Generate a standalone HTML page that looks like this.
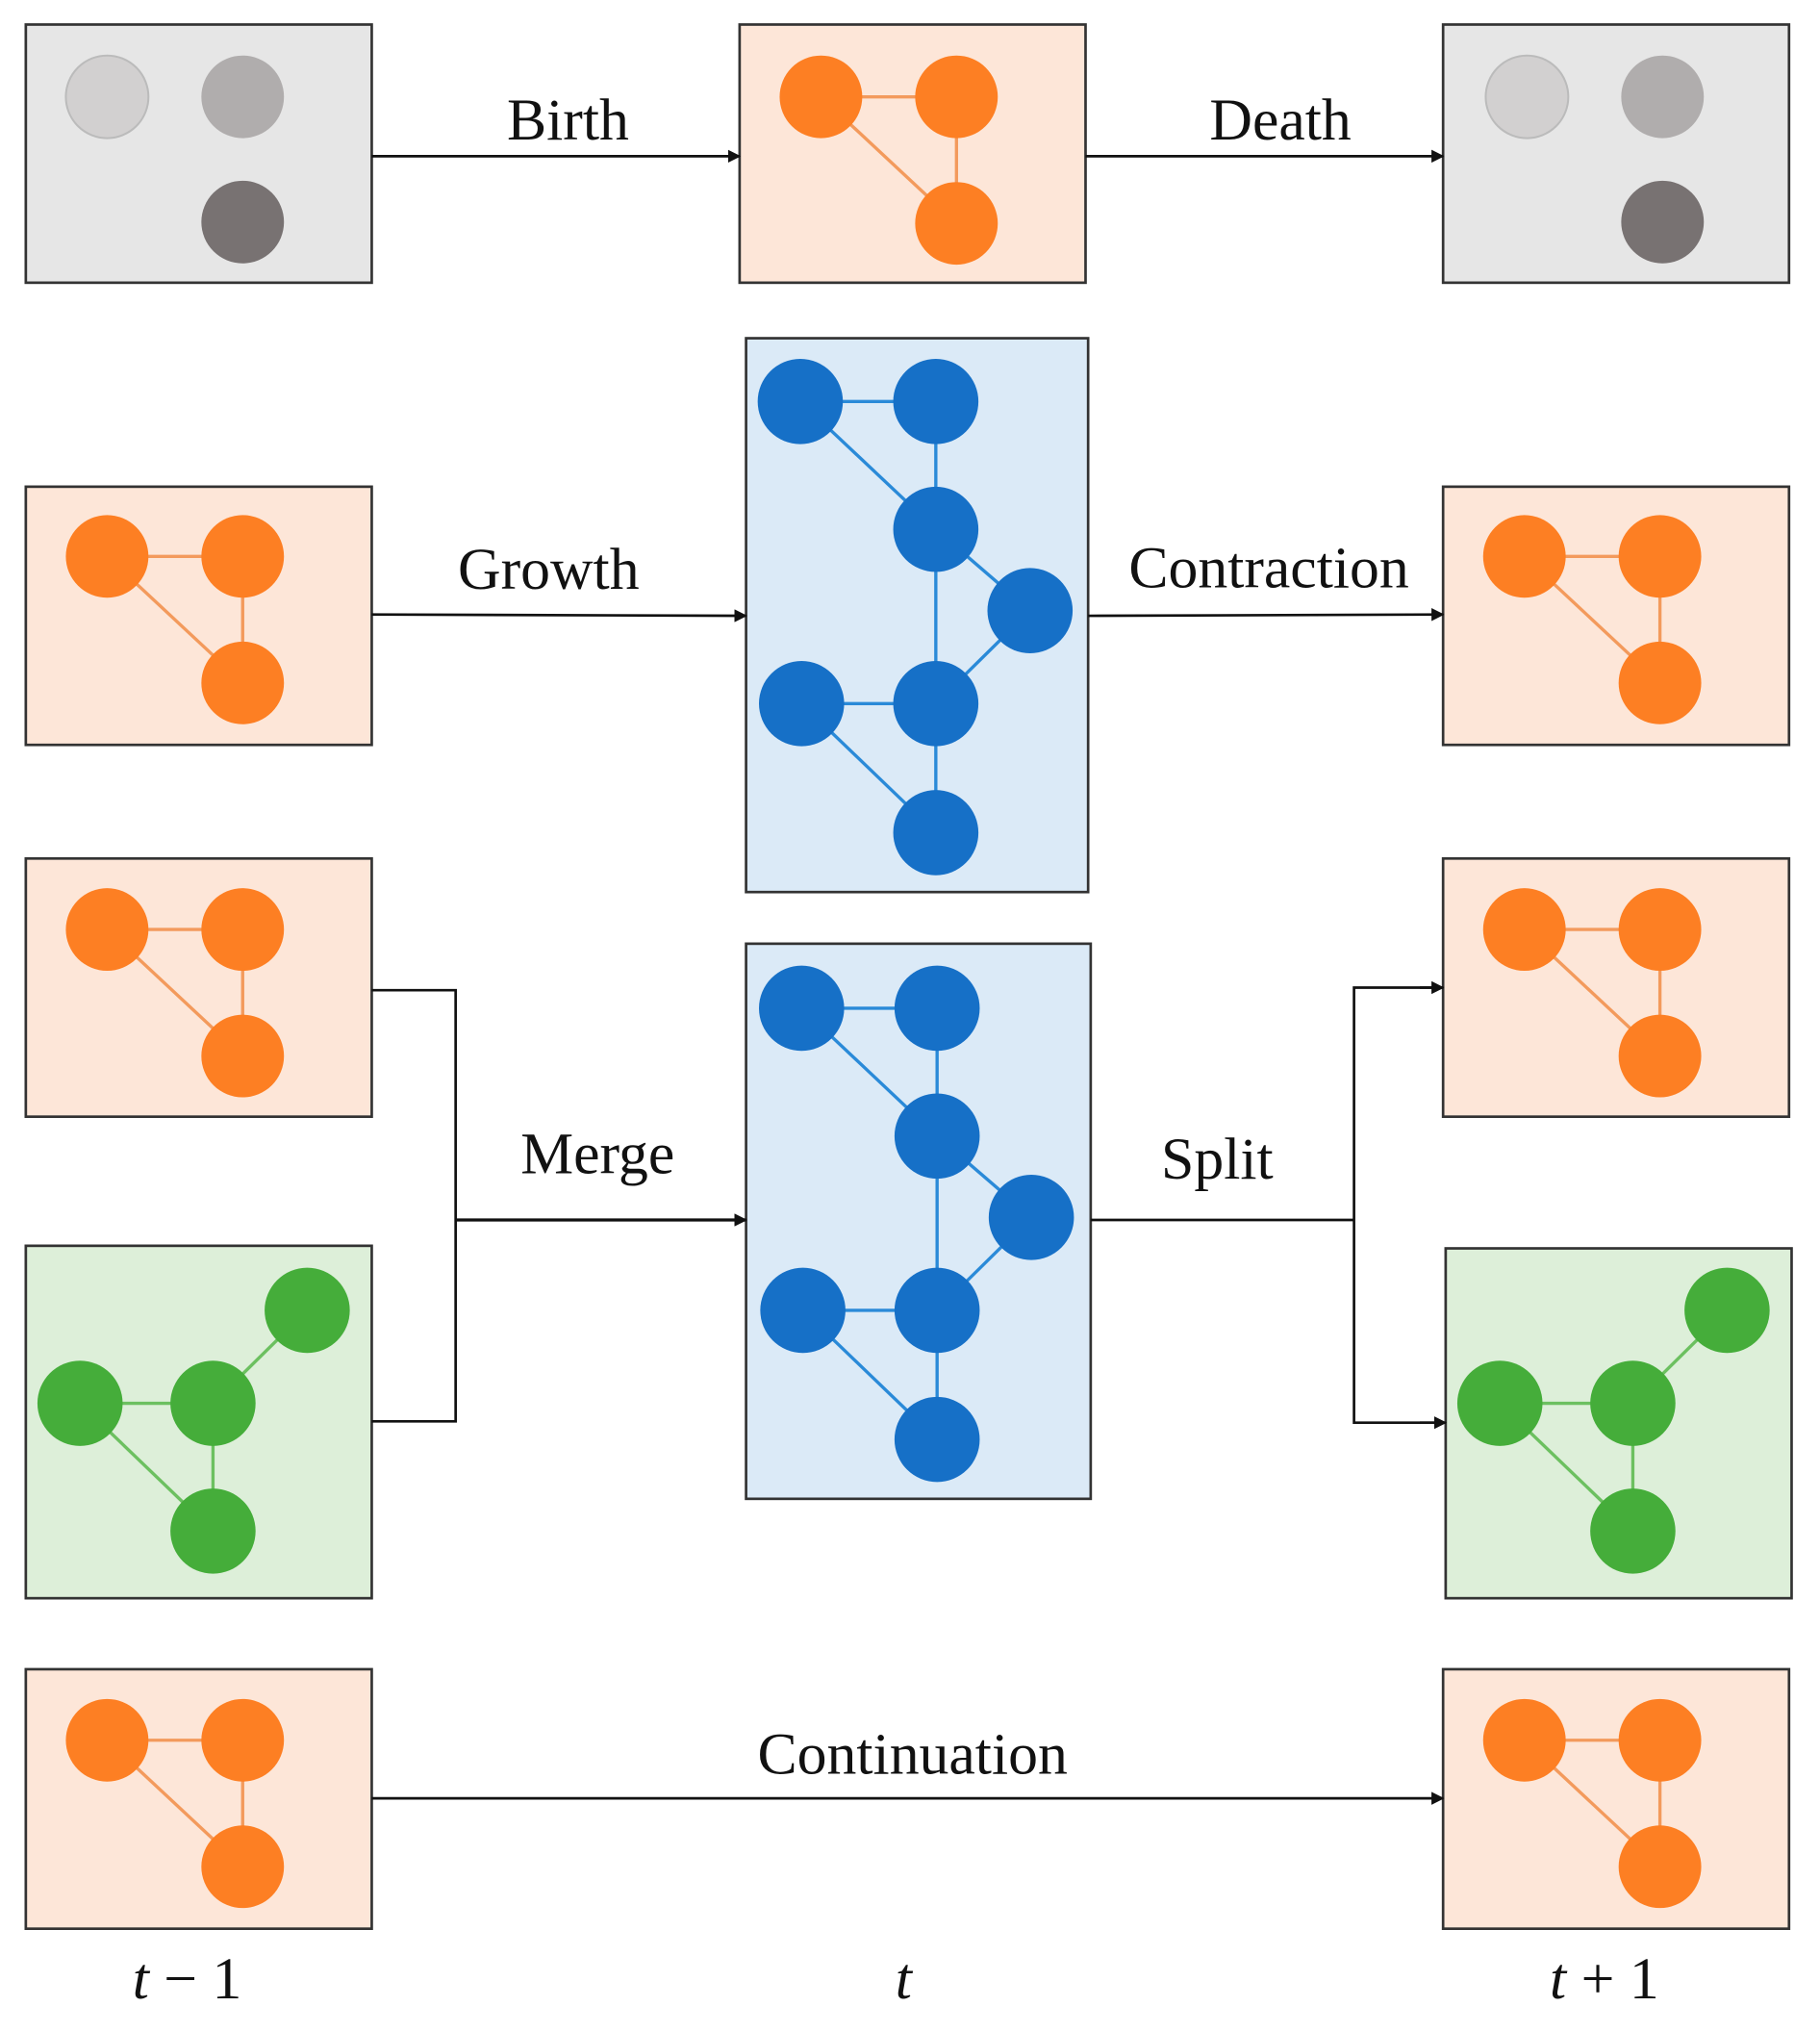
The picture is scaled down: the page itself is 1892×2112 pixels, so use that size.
<!DOCTYPE html>
<html><head><meta charset="utf-8"><style>
html,body{margin:0;padding:0;background:#fff;}
svg{display:block;}
text{font-family:"Liberation Serif",serif;fill:#111;}
</style></head><body>
<svg width="1892" height="2112" viewBox="0 0 1410 1574" preserveAspectRatio="none" xmlns="http://www.w3.org/2000/svg">
<defs>
<marker id="ar" markerWidth="10" markerHeight="10" refX="9" refY="5" orient="auto" markerUnits="userSpaceOnUse"><path d="M0,0 L10,5 L0,10 z" fill="#111"/></marker>
<g id="og">
<line x1="0" y1="0" x2="105" y2="0" stroke="#f39a5c" stroke-width="2.5"/>
<line x1="105" y1="0" x2="105" y2="98" stroke="#f39a5c" stroke-width="2.5"/>
<line x1="0" y1="0" x2="105" y2="98" stroke="#f39a5c" stroke-width="2.5"/>
<circle cx="0" cy="0" r="32" fill="#fd7f23"/><circle cx="105" cy="0" r="32" fill="#fd7f23"/><circle cx="105" cy="98" r="32" fill="#fd7f23"/>
</g>
<g id="bg" stroke="#2a8ad8" stroke-width="2.5">
<line x1="0" y1="0" x2="105" y2="0"/><line x1="105" y1="0" x2="105" y2="99"/><line x1="0" y1="0" x2="105" y2="99"/>
<line x1="105" y1="99" x2="105" y2="234"/><line x1="105" y1="99" x2="178" y2="162"/><line x1="178" y1="162" x2="105" y2="234"/>
<line x1="1" y1="234" x2="105" y2="234"/><line x1="1" y1="234" x2="105" y2="334"/><line x1="105" y1="234" x2="105" y2="334"/>
<g stroke="none" fill="#1670c7">
<circle cx="0" cy="0" r="33"/><circle cx="105" cy="0" r="33"/><circle cx="105" cy="99" r="33"/><circle cx="178" cy="162" r="33"/>
<circle cx="1" cy="234" r="33"/><circle cx="105" cy="234" r="33"/><circle cx="105" cy="334" r="33"/></g>
</g>
<g id="gg" stroke="#6cc060" stroke-width="2.5">
<line x1="0" y1="0" x2="103" y2="0"/><line x1="103" y1="0" x2="176" y2="-72"/><line x1="0" y1="0" x2="103" y2="99"/><line x1="103" y1="0" x2="103" y2="99"/>
<g stroke="none" fill="#45ad3a"><circle cx="0" cy="0" r="33"/><circle cx="103" cy="0" r="33"/><circle cx="176" cy="-72" r="33"/><circle cx="103" cy="99" r="33"/></g>
</g>
</defs>
<g stroke="#333" stroke-width="2">
<rect x="20" y="19" width="268" height="200" fill="#e6e6e6"/>
<rect x="573" y="19" width="268" height="200" fill="#fde6d8"/>
<rect x="1118" y="19" width="268" height="200" fill="#e6e6e6"/>
<rect x="20" y="377" width="268" height="200" fill="#fde6d8"/>
<rect x="578" y="262" width="265" height="429" fill="#dbeaf7"/>
<rect x="1118" y="377" width="268" height="200" fill="#fde6d8"/>
<rect x="20" y="665" width="268" height="200" fill="#fde6d8"/>
<rect x="20" y="965" width="268" height="273" fill="#ddefd9"/>
<rect x="578" y="731" width="267" height="430" fill="#dbeaf7"/>
<rect x="1118" y="665" width="268" height="200" fill="#fde6d8"/>
<rect x="1120" y="967" width="268" height="271" fill="#ddefd9"/>
<rect x="20" y="1293" width="268" height="201" fill="#fde6d8"/>
<rect x="1118" y="1293" width="268" height="201" fill="#fde6d8"/>
</g>
<circle cx="83" cy="75" r="32" fill="#d2d0d0" stroke="#bbb" stroke-width="1.5"/>
<circle cx="188" cy="75" r="32" fill="#b0adad"/>
<circle cx="188" cy="172" r="32" fill="#787272"/>
<circle cx="1183" cy="75" r="32" fill="#d2d0d0" stroke="#bbb" stroke-width="1.5"/>
<circle cx="1288" cy="75" r="32" fill="#b0adad"/>
<circle cx="1288" cy="172" r="32" fill="#787272"/>
<use href="#og" x="636" y="75"/>
<use href="#og" x="83" y="431"/>
<use href="#og" x="1181" y="431"/>
<use href="#og" x="83" y="720"/>
<use href="#og" x="1181" y="720"/>
<use href="#og" x="83" y="1348"/>
<use href="#og" x="1181" y="1348"/>
<use href="#bg" x="620" y="311"/>
<use href="#bg" x="621" y="781"/>
<use href="#gg" x="62" y="1087"/>
<use href="#gg" x="1162" y="1087"/>
<g stroke="#111" stroke-width="2" fill="none">
<line x1="288" y1="121" x2="573" y2="121" marker-end="url(#ar)"/>
<line x1="841" y1="121" x2="1118" y2="121" marker-end="url(#ar)"/>
<line x1="288" y1="476" x2="578" y2="477" marker-end="url(#ar)"/>
<line x1="843" y1="477" x2="1118" y2="476" marker-end="url(#ar)"/>
<polyline points="288,767 353,767 353,1101 288,1101"/>
<line x1="353" y1="945" x2="578" y2="945" marker-end="url(#ar)" stroke-width="2.5"/>
<line x1="845" y1="945" x2="1049" y2="945"/>
<polyline points="1118,765 1049,765 1049,1102 1118,1102"/>
<line x1="1100" y1="765" x2="1118" y2="765" marker-end="url(#ar)"/>
<line x1="1100" y1="1102" x2="1120" y2="1102" marker-end="url(#ar)"/>
<line x1="288" y1="1393" x2="1118" y2="1393" marker-end="url(#ar)"/>
</g>
<g font-size="46" text-anchor="middle">
<text x="440" y="108">Birth</text>
<text x="992" y="108">Death</text>
<text x="425" y="456">Growth</text>
<text x="983" y="455">Contraction</text>
<text x="463" y="909">Merge</text>
<text x="943" y="913">Split</text>
<text x="707" y="1374">Continuation</text>
<text x="145" y="1548"><tspan font-style="italic">t</tspan> − 1</text>
<text x="700" y="1548" font-style="italic">t</text>
<text x="1243" y="1548"><tspan font-style="italic">t</tspan> + 1</text>
</g>
</svg>
</body></html>
